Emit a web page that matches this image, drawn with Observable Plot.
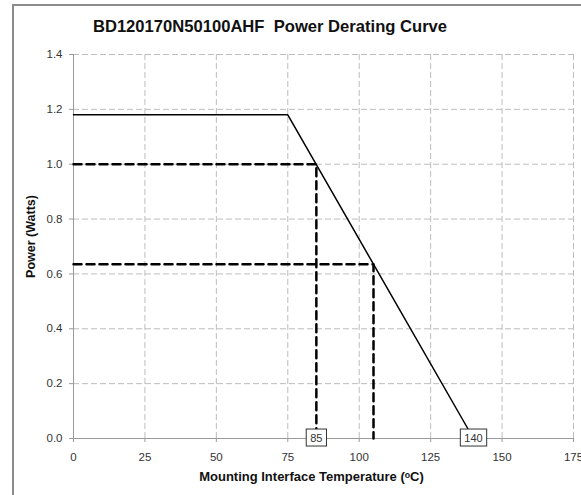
<!DOCTYPE html>
<html><head><meta charset="utf-8">
<script src="https://cdn.jsdelivr.net/npm/d3@7"></script>
<script src="https://cdn.jsdelivr.net/npm/@observablehq/plot@0.6"></script>
<style>
body{margin:0;background:#fff;font-family:"Liberation Sans",Arial,sans-serif;overflow:hidden;width:581px;height:495px;position:relative}
#frame{position:absolute;left:12px;top:4px;width:640px;height:560px;border:2px solid #8c8c8c;box-sizing:border-box}
#title{position:absolute;left:0;top:17px;width:540px;text-align:center;font-weight:bold;font-size:16.6px;color:#111}
#chart{position:absolute;left:0;top:40px}
</style></head><body>
<div id="frame"></div>
<div id="title">BD120170N50100AHF&nbsp; Power Derating Curve</div>
<div id="chart"></div>
<script>
// Data
const curveTemp = [0, 75, 140];
const curvePower = [1.18, 1.18, 0];
const refTemps = [85, 105];
const refPowers = [1.0, 0.635];
const boxLabels = [85, 140];
const xTicks = [0, 25, 50, 75, 100, 125, 150, 175];
const yTicks = [0, 0.2, 0.4, 0.6, 0.8, 1.0, 1.2, 1.4];
const xTitle = "Mounting Interface Temperature (ᵒC)";
const yTitle = "Power (Watts)";

const curve = curveTemp.map((t, i) => ({t, p: curvePower[i]}));
const refs = refTemps.flatMap((t, i) => [
  {id: i, t: 0, p: refPowers[i]},
  {id: i, t: t, p: refPowers[i]},
  {id: i, t: t, p: 0}
]);

const chart = Plot.plot({
  width: 581,
  height: 455,
  marginLeft: 73,
  marginRight: 8,
  marginTop: 14,
  marginBottom: 57,
  style: {fontFamily: "Liberation Sans, Arial, sans-serif", background: "transparent"},
  x: {domain: [0, 175]},
  y: {domain: [0, 1.4]},
  marks: [
    Plot.gridX(xTicks, {stroke: "#bdbdbd", strokeOpacity: 1, strokeDasharray: "6,3"}),
    Plot.gridY(yTicks, {stroke: "#bdbdbd", strokeOpacity: 1, strokeDasharray: "6,3"}),
    Plot.ruleX([0], {stroke: "#9a9a9a"}),
    Plot.ruleY([0], {stroke: "#9a9a9a"}),
    Plot.axisX(xTicks, {tickSize: 4, tickPadding: 10, stroke: "#9a9a9a", fill: "#333", fontSize: 11.5, label: null}),
    Plot.axisY(yTicks, {tickSize: 4, tickPadding: 7, stroke: "#9a9a9a", fill: "#333", fontSize: 11.5, label: null, tickFormat: d3.format(".1f")}),
    Plot.line(refs, {x: "t", y: "p", z: "id", stroke: "#000", strokeWidth: 2.5, strokeDasharray: "8,5"}),
    Plot.line(curve, {x: "t", y: "p", stroke: "#000", strokeWidth: 1.5}),
    Plot.text(boxLabels, {x: d => d, y: 0, text: d => String(d), fontSize: 11, fill: "#333"}),
    Plot.text([yTitle], {frameAnchor: "left", rotate: -90, textAnchor: "middle", dx: -43, dy: -10, fontWeight: "bold", fontSize: 12.5, fill: "#111"}),
    Plot.text([xTitle], {frameAnchor: "bottom", lineAnchor: "middle", dy: 38, dx: -12, fontWeight: "bold", fontSize: 13, fill: "#111"})
  ]
});
document.getElementById("chart").appendChild(chart);

// draw white boxes behind the boxed labels
const wanted = new Set(boxLabels.map(String));
chart.querySelectorAll('g[aria-label="text"] text').forEach(t => {
  if (!wanted.has(t.textContent)) return;
  const b = t.getBBox();
  const r = document.createElementNS("http://www.w3.org/2000/svg", "rect");
  const tr = t.getAttribute("transform");
  if (tr) r.setAttribute("transform", tr);
  r.setAttribute("x", b.x - 4);
  r.setAttribute("y", b.y - 3);
  r.setAttribute("width", b.width + 8);
  r.setAttribute("height", b.height + 5);
  r.setAttribute("fill", "#fff");
  r.setAttribute("stroke", "#333");
  r.setAttribute("stroke-width", "1");
  t.parentNode.insertBefore(r, t);
});
</script>
</body></html>
